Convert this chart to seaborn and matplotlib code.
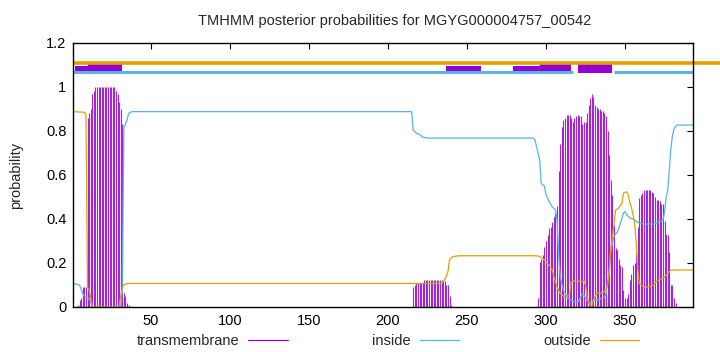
import numpy as np
import pandas as pd
import matplotlib
matplotlib.use("Agg")
import matplotlib.pyplot as plt
import seaborn as sns
from matplotlib.lines import Line2D

# ==================================================
# Data
# ==================================================
seq_len = 393

# transmembrane posterior per residue, only the non-zero stretches
tm_starts = [4, 216, 295]
tm_blocks = [
    [0.01, 0.03, 0.04, 0.09, 0.09, 0.09, 0.86, 0.88, 0.90, 0.97, 0.98,
     1.0, 1.0, 1.0, 1.0, 1.0, 1.0, 1.0, 1.0, 1.0, 1.0, 1.0, 1.0, 1.0,
     0.98, 0.97, 0.93, 0.90, 0.83, 0.065, 0.05, 0.02, 0.01],
    [0.09, 0.10, 0.11, 0.11, 0.11, 0.11, 0.11, 0.125, 0.125, 0.125,
     0.125, 0.125, 0.125, 0.125, 0.125, 0.125, 0.125, 0.125, 0.125,
     0.12, 0.12, 0.10, 0.10, 0.05, 0.01],
    [0.04, 0.206, 0.22, 0.236, 0.274, 0.30, 0.327, 0.358, 0.365, 0.388,
     0.41, 0.426, 0.46, 0.62, 0.74, 0.82, 0.85, 0.86, 0.873, 0.873,
     0.873, 0.86, 0.84, 0.857, 0.87, 0.873, 0.87, 0.866, 0.83, 0.84,
     0.84, 0.88, 0.92, 0.95, 0.967, 0.955, 0.92, 0.91, 0.90, 0.90,
     0.89, 0.89, 0.88, 0.87, 0.80, 0.69, 0.577, 0.51, 0.373, 0.267,
     0.26, 0.22, 0.19, 0.18, 0.077, 0.04, 0.04, 0.06, 0.123, 0.15,
     0.19, 0.20, 0.244, 0.365, 0.494, 0.51, 0.52, 0.532, 0.532, 0.532,
     0.532, 0.532, 0.525, 0.52, 0.50, 0.486, 0.486, 0.48, 0.47, 0.47,
     0.39, 0.33, 0.327, 0.25, 0.10, 0.10, 0.04, 0.02],
]

inside_pos = [1, 5, 6, 7, 8, 11, 13, 31, 32, 33, 34, 35, 36, 38,
              215, 216, 218, 220, 222, 225, 292, 293, 294, 296, 297, 299,
              300, 302, 304, 306, 307, 308, 309, 311, 314, 317, 320, 323,
              324, 325, 326, 327, 329, 331, 334, 337, 338, 339, 340, 341,
              342, 343, 344, 345, 346, 347, 348, 349, 350, 351, 352, 353,
              355, 357, 359, 362, 368, 371, 373, 374, 375, 376, 377, 378,
              379, 380, 381, 382, 383, 393]
inside_prob = [0.107, 0.10, 0.08, 0.06, 0.05, 0.04, 0.0, 0.0, 0.07, 0.82,
               0.83, 0.85, 0.88, 0.888,
               0.888, 0.805, 0.79, 0.785, 0.772, 0.768, 0.768, 0.76, 0.73,
               0.668, 0.562, 0.55, 0.51, 0.48, 0.455, 0.44, 0.395, 0.244,
               0.138, 0.076, 0.04, 0.025, 0.02, 0.06, 0.055, 0.04, 0.03,
               0.02, 0.025, 0.03, 0.035, 0.045, 0.06, 0.115, 0.16, 0.25,
               0.29, 0.32, 0.33, 0.34, 0.355, 0.38, 0.40, 0.426, 0.434,
               0.42, 0.413, 0.405, 0.40, 0.39, 0.38, 0.377, 0.377, 0.386,
               0.39, 0.395, 0.43, 0.50, 0.53, 0.62, 0.72, 0.78, 0.81, 0.82,
               0.827, 0.827]

outside_pos = [1, 8, 9, 10, 11, 12, 13, 30, 31, 32, 33, 35, 234, 235,
               236, 237, 238, 239, 241, 245, 292, 295, 296, 298, 300, 302,
               304, 305, 307, 309, 311, 313, 315, 316, 317, 319, 321, 323,
               324, 325, 326, 327, 328, 329, 330, 332, 336, 338, 339, 340,
               341, 343, 344, 346, 348, 349, 351, 352, 353, 354, 356, 357,
               358, 359, 362, 365, 368, 370, 372, 374, 376, 379, 393]
outside_prob = [0.888, 0.885, 0.875, 0.09, 0.08, 0.04, 0.0, 0.0, 0.05, 0.09,
                0.10, 0.107, 0.107, 0.115, 0.125, 0.14, 0.16, 0.214, 0.229,
                0.233, 0.233, 0.232, 0.229, 0.22, 0.206, 0.19, 0.168, 0.138,
                0.09, 0.062, 0.05, 0.05, 0.06, 0.115, 0.12, 0.115, 0.118,
                0.115, 0.12, 0.10, 0.05, 0.02, 0.01, 0.005, 0.03, 0.062,
                0.065, 0.08, 0.10, 0.16, 0.267, 0.373, 0.44, 0.45, 0.47,
                0.517, 0.524, 0.51, 0.476, 0.455, 0.388, 0.297, 0.176, 0.107,
                0.09, 0.092, 0.10, 0.118, 0.125, 0.13, 0.145, 0.168, 0.168]

# predicted topology strip along the top (residue ranges)
top_outside = [(1, 410)]
top_inside = [(1, 317), (343, 393)]
top_tm_thin = [(2, 10), (237, 259), (279, 296)]
top_tm_thick = [(10, 32), (296, 316), (320, 342)]

x_ticks = [50, 100, 150, 200, 250, 300, 350]
y_ticks = [0, 0.2, 0.4, 0.6, 0.8, 1.0, 1.2]
y_labels = ["0", "0.2", "0.4", "0.6", "0.8", "1", "1.2"]

TM_COLOR = "#9400D3"
IN_COLOR = "#56B4E9"
OUT_COLOR = "#E69F00"

# ==================================================
# Plot
# ==================================================
sns.set_style("white")
plt.rcParams["font.family"] = ["Liberation Sans", "DejaVu Sans"]
plt.rcParams["font.size"] = 10.5

fig = plt.figure(figsize=(7.2, 3.52), dpi=100)
ax = fig.add_axes([73.3 / 720, 1 - 307 / 352, (693 - 73.3) / 720, 264 / 352])

residues = np.arange(1, seq_len + 1)
tm = np.zeros(seq_len)
for start, block in zip(tm_starts, tm_blocks):
    tm[start - 1:start - 1 + len(block)] = block
mask = tm > 0
ax.vlines(residues[mask], 0, tm[mask], color=TM_COLOR, linewidth=0.8,
          alpha=0.85)

df_in = pd.DataFrame({"pos": inside_pos, "prob": inside_prob})
df_out = pd.DataFrame({"pos": outside_pos, "prob": outside_prob})
sns.lineplot(data=df_in, x="pos", y="prob", ax=ax, color=IN_COLOR,
             linewidth=0.9, estimator=None)
sns.lineplot(data=df_out, x="pos", y="prob", ax=ax, color=OUT_COLOR,
             linewidth=0.9, estimator=None)

# topology strip
for a, b in top_inside:
    ax.hlines(1.068, a, b, color=IN_COLOR, linewidth=2.2, clip_on=False)
for a, b in top_tm_thin:
    ax.bar(a, 0.024, width=b - a, bottom=1.073, align="edge",
           color=TM_COLOR, linewidth=0)
for a, b in top_tm_thick:
    ax.bar(a, 0.047, width=b - a, bottom=1.062, align="edge",
           color=TM_COLOR, linewidth=0)
for a, b in top_outside:
    ax.hlines(1.107, a, b, color=OUT_COLOR, linewidth=2.6, clip_on=False)

ax.set_xlim(1, seq_len)
ax.set_ylim(0, 1.2)
ax.set_xticks(x_ticks)
ax.set_yticks(y_ticks)
ax.set_yticklabels(y_labels)
ax.set_xlabel("")
ax.set_ylabel("")
ax.tick_params(direction="in", length=4, width=0.8, top=True, right=True,
               labelsize=10.5, colors="black", pad=5)
for s in ax.spines.values():
    s.set_visible(True)
    s.set_color("black")
    s.set_linewidth(1.0)

fig.text(395 / 720, 1 - 21 / 352,
         "TMHMM posterior probabilities for MGYG000004757_00542",
         ha="center", va="center", fontsize=10.5)
fig.text(16 / 720, 1 - 175 / 352, "probability", rotation=90,
         ha="center", va="center", fontsize=10.5)

handles = [Line2D([], [], color=TM_COLOR, lw=0.9),
           Line2D([], [], color=IN_COLOR, lw=0.9),
           Line2D([], [], color=OUT_COLOR, lw=0.9)]
fig.legend(handles, ["transmembrane", "inside", "outside"], ncol=3,
           loc="center", bbox_to_anchor=(388 / 720, 1 - 341 / 352),
           frameon=False, markerfirst=False, handlelength=2.7,
           handletextpad=0.6, columnspacing=5.8, fontsize=10.5,
           borderpad=0, borderaxespad=0)

fig.savefig("out.png", dpi=100)
